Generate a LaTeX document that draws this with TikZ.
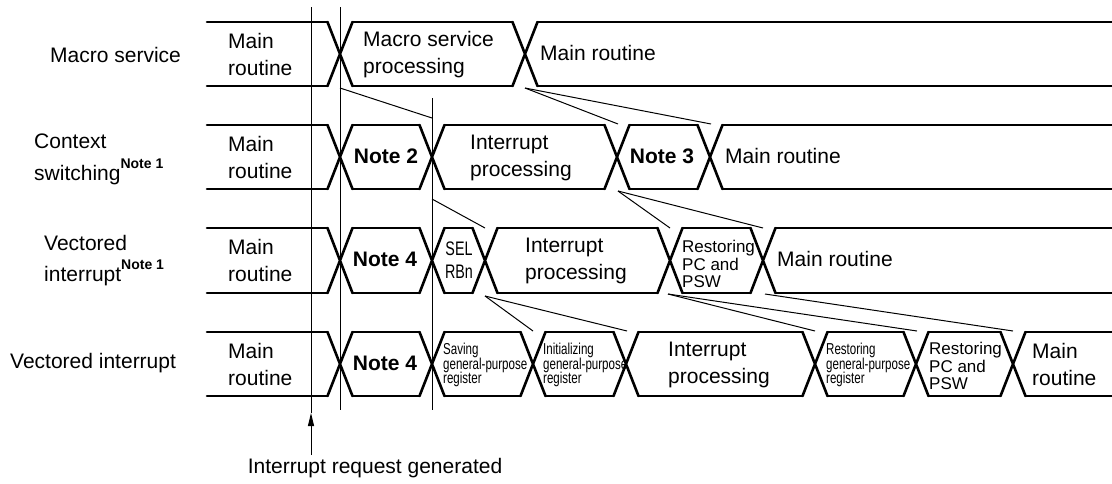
\documentclass[tikz,border=0pt]{standalone}
\usepackage{fontspec}
\setmainfont{Liberation Sans}
\newfontfamily\narrowfont[FakeStretch=0.73]{Liberation Sans}
\usetikzlibrary{arrows.meta}
\newcommand\noteone{\raisebox{12pt}{\fontsize{14}{14}\selectfont\bfseries Note 1}}
\newcommand\busrow[3]{%
  \foreach \c [remember=\c as \p (initially 194.5)] in {#3,1124.5}
    {\draw[bus] (\p+12.5,#1) -- (\c-12.5,#1) (\p+12.5,#2) -- (\c-12.5,#2);}
  \foreach \c in {#3}
    {\draw[bus] (\c-12.5,#1) -- (\c+12.5,#2) (\c-12.5,#2) -- (\c+12.5,#1);}
}
\begin{document}
\begin{tikzpicture}[x=1pt,y=-1pt,
  bus/.style={line width=2.6pt,line cap=round,line join=round},
  thinline/.style={line width=1pt},
  lbl/.style={inner sep=0pt,align=left,font=\fontsize{21}{27}\selectfont},
  note/.style={inner sep=0pt,font=\fontsize{21}{27}\selectfont\bfseries},
  sel/.style={inner sep=0pt,align=center,font=\narrowfont\fontsize{19.6}{23}\selectfont},
  small/.style={inner sep=0pt,align=left,font=\narrowfont\fontsize{15.8}{14.8}\selectfont},
  rest/.style={inner sep=0pt,align=left,font=\fontsize{17}{17.5}\selectfont}]
\useasboundingbox (0,0) rectangle (1112,483);

% bus rows
\busrow{22}{86}{340,525}
\busrow{125}{189}{340,432,617,710}
\busrow{228}{293}{340,432,485,670,763}
\busrow{332}{396}{340,432,533,626,815,916,1013}

% vertical markers
\coordinate (irqtop) at (311,7);
\coordinate (irqtip) at (311,413);
\coordinate (irqfoot) at (311,455);
\coordinate (vatop) at (340,7);
\coordinate (vabot) at (340,410);
\coordinate (vbtop) at (432,98);
\coordinate (vbbot) at (432,410);
\draw[thinline] (irqtip) -- (irqtop);
\draw[thinline,-{Triangle[length=13pt,width=6pt]}] (irqfoot) -- (irqtip);
\draw[thinline] (vatop) -- (vabot);
\draw[thinline] (vbtop) -- (vbbot);

% connector end points
\coordinate (a1) at (340,88);
\coordinate (a2) at (525,88);
\coordinate (b1) at (432,118);
\coordinate (b2) at (618,124);
\coordinate (b3) at (711,124);
\coordinate (c1) at (432,199);
\coordinate (c2) at (618,191);
\coordinate (d1) at (485,228);
\coordinate (d2) at (670,228);
\coordinate (d3) at (763,228);
\coordinate (e1) at (485,296);
\coordinate (e2) at (668,294);
\coordinate (e3) at (765,294);
\coordinate (f1) at (533,331);
\coordinate (f2) at (627,331);
\coordinate (f3) at (815,331);
\coordinate (f4) at (917,331);
\coordinate (f5) at (1013,331);
\draw[thinline] (a1) -- (b1);
\draw[thinline] (a2) -- (b2);
\draw[thinline] (a2) -- (b3);
\draw[thinline] (c1) -- (d1);
\draw[thinline] (c2) -- (d2);
\draw[thinline] (c2) -- (d3);
\draw[thinline] (e1) -- (f1);
\draw[thinline] (e1) -- (f2);
\draw[thinline] (e2) -- (f3);
\draw[thinline] (e2) -- (f4);
\draw[thinline] (e3) -- (f5);

% row labels
\node[lbl,anchor=west] (lm) at (50,55) {Macro service};
\node[lbl,anchor=west] (lc) at (34,159) {Context\\[5pt]switching\noteone};
\node[lbl,anchor=west] (lv1) at (44,261) {Vectored\\[4pt]interrupt\noteone};
\node[lbl,anchor=west] (lv2) at (10,363) {Vectored interrupt};

% row 1
\node[lbl,anchor=west] (m1) at (228,54) {Main\\routine};
\node[lbl,anchor=west] (ms) at (363,55) {Macro service\\processing};
\node[lbl,anchor=west] (m1b) at (540,53) {Main routine};

% row 2
\node[lbl,anchor=west] (m2) at (228,157) {Main\\routine};
\node[note] (n2) at (386,156) {Note 2};
\node[lbl,anchor=west] (ip2) at (470,158) {Interrupt\\processing};
\node[note] (n3) at (662,156) {Note 3};
\node[lbl,anchor=west] (m2b) at (725,156) {Main routine};

% row 3
\node[lbl,anchor=west] (m3) at (228,260) {Main\\routine};
\node[note] (n4a) at (385,259) {Note 4};
\node[sel] (sel) at (459,260) {SEL\\RBn};
\node[lbl,anchor=west] (ip3) at (525,261) {Interrupt\\processing};
\node[rest,anchor=west] (rpc3) at (682,264) {Restoring\\PC and\\PSW};
\node[lbl,anchor=west] (m3b) at (777,259) {Main routine};

% row 4
\node[lbl,anchor=west] (m4) at (228,364) {Main\\routine};
\node[note] (n4b) at (385,363) {Note 4};
\node[small,anchor=west] (sv) at (443,365) {Saving\\general-purpose\\register};
\node[small,anchor=west] (ini) at (543,365) {Initializing\\general-purpose\\register};
\node[lbl,anchor=west] (ip4) at (668,365) {Interrupt\\processing};
\node[small,anchor=west] (rg) at (826,365) {Restoring\\general-purpose\\register};
\node[rest,anchor=west] (rpc4) at (929,366) {Restoring\\PC and\\PSW};
\node[lbl,anchor=west] (m4b) at (1032,364) {Main\\routine};

% caption
\node[lbl,anchor=base] (irq) at (375,473) {Interrupt request generated};
\end{tikzpicture}
\end{document}
